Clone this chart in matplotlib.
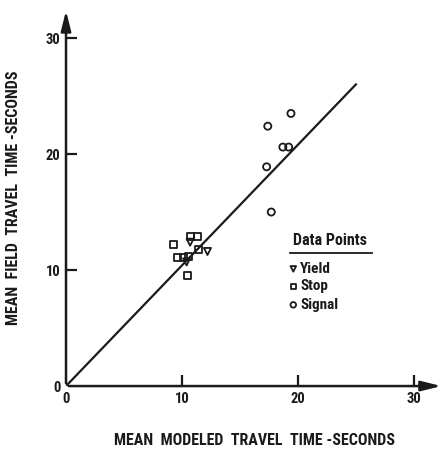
import numpy as np
import matplotlib.pyplot as plt

plt.rcParams['font.family'] = ['Roboto Condensed', 'DejaVu Sans']
plt.rcParams['font.weight'] = 'bold'
plt.rcParams['axes.labelweight'] = 'bold'

# Data (modeled, field) in seconds
yield_x = [10.7, 12.2, 10.4]
yield_y = [12.4, 11.6, 10.7]
stop_x = [9.3, 10.7, 11.3, 11.4, 9.6, 10.1, 10.6, 10.5]
stop_y = [12.2, 12.9, 12.9, 11.8, 11.1, 11.1, 11.2, 9.5]
signal_x = [19.4, 17.4, 18.7, 19.2, 17.3, 17.7]
signal_y = [23.5, 22.4, 20.6, 20.6, 18.9, 15.0]
line_x = [0, 25]
line_y = [0, 26]
ticks = [10, 20, 30]

ink = '#1a1a1a'
fig = plt.figure(figsize=(4.46, 4.51), dpi=100)
ax = fig.add_axes([0.148, 0.144, 0.845, 0.836])
ax.set_xlim(0, 32.5)
ax.set_ylim(0, 32.5)
for s in ax.spines.values():
    s.set_visible(False)

# axes with arrow heads
ax.annotate('', xy=(32.6, 0), xytext=(0, 0), annotation_clip=False,
            arrowprops=dict(arrowstyle='-|>,head_length=1.2,head_width=0.3', lw=1.8, color=ink))
ax.annotate('', xy=(0, 32.6), xytext=(0, 0), annotation_clip=False,
            arrowprops=dict(arrowstyle='-|>,head_length=1.2,head_width=0.3', lw=1.8, color=ink))

ax.plot(line_x, line_y, color=ink, lw=1.6)

mk = dict(facecolor='none', edgecolor=ink, linewidths=1.3, s=26)
ax.scatter(yield_x, yield_y, marker='v', **mk)
ax.scatter(stop_x, stop_y, marker='s', **mk)
ax.scatter(signal_x, signal_y, marker='o', **mk)

ax.set_xticks([0] + ticks)
ax.set_yticks([0] + ticks)
ax.tick_params(direction='in', length=8, width=1.6, color=ink,
               labelsize=10.5, labelcolor=ink, pad=4)
ax.xaxis.get_major_ticks()[0].tick1line.set_visible(False)
ax.yaxis.get_major_ticks()[0].tick1line.set_visible(False)

ax.set_xlabel('MEAN  MODELED  TRAVEL  TIME -SECONDS', fontsize=11.5, labelpad=20, color=ink)
ax.set_ylabel('MEAN  FIELD  TRAVEL  TIME -SECONDS', fontsize=11.5, labelpad=18, color=ink)

# legend drawn by hand
ax.text(22.8, 11.9, 'Data Points', fontsize=11.5, ha='center', va='bottom', color=ink)
ax.plot([19.3, 26.4], [11.5, 11.5], color=ink, lw=1.3, clip_on=False)
leg = [('v', 'Yield', 10.1), ('s', 'Stop', 8.6), ('o', 'Signal', 7.0)]
for m, lab, yy in leg:
    ax.scatter([19.6], [yy], marker=m, facecolor='none', edgecolor=ink, linewidths=1.3, s=16)
    ax.text(20.2, yy, lab, fontsize=11, va='center', color=ink)

fig.savefig('out.png', dpi=100)
